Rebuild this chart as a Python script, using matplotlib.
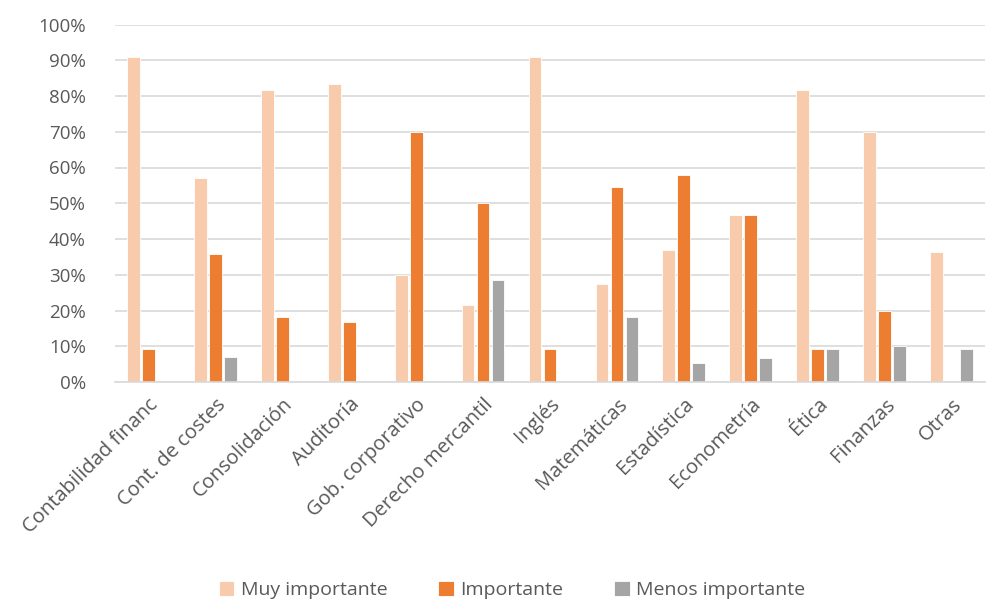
import numpy as np
import matplotlib.pyplot as plt
from matplotlib.ticker import PercentFormatter

plt.rcParams['font.family'] = ['Open Sans', 'DejaVu Sans']

# Categories and series (percent)
categories = ['Contabilidad financ', 'Cont. de costes', 'Consolidación', 'Auditoría',
              'Gob. corporativo', 'Derecho mercantil', 'Inglés', 'Matemáticas',
              'Estadística', 'Econometría', 'Ética', 'Finanzas', 'Otras']
muy_importante = [90.9, 57.1, 81.8, 83.3, 30.0, 21.4, 90.9, 27.3, 36.8, 46.7, 81.8, 70.0, 36.4]
importante = [9.1, 35.7, 18.2, 16.7, 70.0, 50.0, 9.1, 54.5, 57.9, 46.7, 9.1, 20.0, 0.0]
menos_importante = [0.0, 7.1, 0.0, 0.0, 0.0, 28.6, 0.0, 18.2, 5.3, 6.7, 9.1, 10.0, 9.1]

series_names = ['Muy importante', 'Importante', 'Menos importante']
colors = ['#F8CBAD', '#ED7D31', '#A5A5A5']
text_color = '#595959'

fig = plt.figure(figsize=(9.86, 6.02), dpi=100)
ax = fig.add_axes([115 / 986, 220 / 602, 870 / 986, 357.5 / 602])

x = np.arange(len(categories))
width = 0.19
step = 0.224
for i, (vals, name, c) in enumerate(zip([muy_importante, importante, menos_importante],
                                        series_names, colors)):
    ax.bar(x + (i - 1) * step, vals, width, color=c, label=name, zorder=2,
           edgecolor='white', linewidth=0.6)

ax.set_xlim(-0.5, len(categories) - 0.5)
ax.set_ylim(0, 100)
ax.set_yticks(np.arange(0, 101, 10))
ax.yaxis.set_major_formatter(PercentFormatter(decimals=0))
ax.grid(axis='y', color='#D9D9D9', linewidth=1.2, zorder=0)
for s in ['top', 'right', 'left']:
    ax.spines[s].set_visible(False)
ax.spines['bottom'].set_color('#D9D9D9')
ax.spines['bottom'].set_linewidth(1.2)
ax.tick_params(axis='y', length=0, colors=text_color, labelsize=13.5, pad=21)
ax.set_xticks(x)
ax.set_xticklabels(categories, rotation=45, ha='right', rotation_mode='anchor')
ax.tick_params(axis='x', length=0, colors=text_color, labelsize=14.5, pad=9)

leg = fig.legend(loc='center', bbox_to_anchor=(512 / 986, 1 - 590 / 602), ncol=3,
                 frameon=False, fontsize=14, handlelength=0.8, handleheight=0.8,
                 handletextpad=0.35, columnspacing=2.6)
for t in leg.get_texts():
    t.set_color(text_color)

fig.savefig('out.png', dpi=100)
